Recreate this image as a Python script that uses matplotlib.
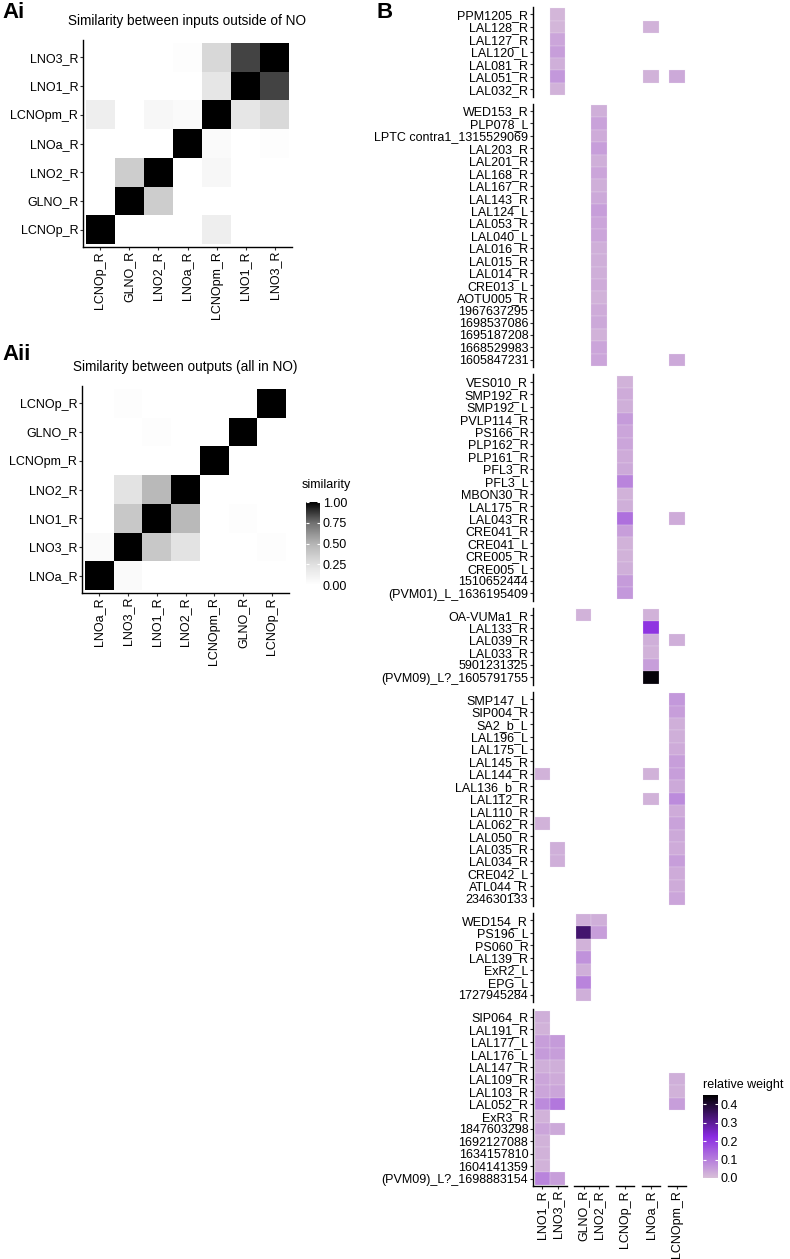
import numpy as np
import matplotlib
matplotlib.use("Agg")
import matplotlib.pyplot as plt
from matplotlib.colors import LinearSegmentedColormap, Normalize
from matplotlib.cm import ScalarMappable

plt.rcParams["font.family"] = ["Liberation Sans", "DejaVu Sans"]

W, H = 790, 1259

# Ai: similarity between inputs outside of NO (rows bottom->top, same order as columns)
ai_labels = ["LCNOp_R", "GLNO_R", "LNO2_R", "LNOa_R", "LCNOpm_R", "LNO1_R", "LNO3_R"]
ai_sim = [
    [1.00, 0.00, 0.00, 0.00, 0.137, 0.00, 0.00],
    [0.00, 1.00, 0.36, 0.00, 0.00, 0.00, 0.00],
    [0.00, 0.36, 1.00, 0.00, 0.065, 0.00, 0.00],
    [0.00, 0.00, 0.00, 1.00, 0.04, 0.00, 0.02],
    [0.137, 0.00, 0.065, 0.04, 1.00, 0.20, 0.29],
    [0.00, 0.00, 0.00, 0.00, 0.20, 1.00, 0.85],
    [0.00, 0.00, 0.00, 0.02, 0.30, 0.85, 1.00],
]

# Aii: similarity between outputs
aii_labels = ["LNOa_R", "LNO3_R", "LNO1_R", "LNO2_R", "LCNOpm_R", "GLNO_R", "LCNOp_R"]
aii_sim = [
    [1.00, 0.04, 0.00, 0.00, 0.00, 0.00, 0.00],
    [0.04, 1.00, 0.386, 0.23, 0.00, 0.00, 0.02],
    [0.00, 0.386, 1.00, 0.47, 0.00, 0.02, 0.00],
    [0.00, 0.23, 0.47, 1.00, 0.00, 0.00, 0.00],
    [0.00, 0.00, 0.00, 0.00, 1.00, 0.00, 0.00],
    [0.00, 0.00, 0.02, 0.00, 0.00, 1.00, 0.00],
    [0.00, 0.02, 0.00, 0.00, 0.00, 0.00, 1.00],
]

# B: relative weights, one block per row facet
b_groups = [["LNO1_R", "LNO3_R"], ["GLNO_R", "LNO2_R"], ["LCNOp_R"], ["LNOa_R"], ["LCNOpm_R"]]

b1_rows = ["PPM1205_R", "LAL128_R", "LAL127_R", "LAL120_L", "LAL081_R", "LAL051_R", "LAL032_R"]
b1_vals = {
    "LNO3_R": [0.015, 0.015, 0.04, 0.05, 0.025, 0.06, 0.02],
    "LNOa_R": [None, 0.02, None, None, None, 0.02, None],
    "LCNOpm_R": [None, None, None, None, None, 0.035, None],
}

b2_rows = ["WED153_R", "PLP078_L", "LPTC contra1_1315529069", "LAL203_R", "LAL201_R",
           "LAL168_R", "LAL167_R", "LAL143_R", "LAL124_L", "LAL053_R", "LAL040_L",
           "LAL016_R", "LAL015_R", "LAL014_R", "CRE013_L", "AOTU005_R", "1967637295",
           "1698537086", "1695187208", "1668529983", "1605847231"]
b2_vals = {
    "LNO2_R": [0.025, 0.045, 0.03, 0.05, 0.025, 0.04, 0.025, 0.035, 0.05, 0.04, 0.04,
               0.025, 0.025, 0.025, 0.03, 0.02, 0.03, 0.035, 0.02, 0.04, 0.04],
    "LCNOpm_R": [None] * 20 + [0.035],
}

b3_rows = ["VES010_R", "SMP192_R", "SMP192_L", "PVLP114_R", "PS166_R", "PLP162_R",
           "PLP161_R", "PFL3_R", "PFL3_L", "MBON30_R", "LAL175_R", "LAL043_R",
           "CRE041_R", "CRE041_L", "CRE005_R", "CRE005_L", "1510652444",
           "(PVM01)_L_1636195409"]
b3_vals = {
    "LCNOp_R": [0.02, 0.03, 0.025, 0.055, 0.04, 0.04, 0.03, 0.035, 0.09, 0.02, 0.025,
                0.12, 0.05, 0.02, 0.02, 0.025, 0.055, 0.06],
    "LCNOpm_R": [None] * 11 + [0.03] + [None] * 6,
}

b4_rows = ["OA-VUMa1_R", "LAL133_R", "LAL039_R", "LAL033_R", "5901231325",
           "(PVM09)_L?_1605791755"]
b4_vals = {
    "GLNO_R": [0.02, None, None, None, None, None],
    "LNOa_R": [0.02, 0.21, 0.025, 0.02, 0.05, 0.44],
    "LCNOpm_R": [None, None, 0.025, None, None, None],
}

b5_rows = ["SMP147_L", "SIP004_R", "SA2_b_L", "LAL196_L", "LAL175_L", "LAL145_R",
           "LAL144_R", "LAL136_b_R", "LAL112_R", "LAL110_R", "LAL062_R", "LAL050_R",
           "LAL035_R", "LAL034_R", "CRE042_L", "ATL044_R", "234630133"]
b5_vals = {
    "LNO1_R": [None] * 6 + [0.02, None, None, None, 0.02] + [None] * 6,
    "LNO3_R": [None] * 12 + [0.025, 0.025] + [None] * 3,
    "LNOa_R": [None] * 6 + [0.02, None, 0.02] + [None] * 8,
    "LCNOpm_R": [0.06, 0.05, 0.025, 0.025, 0.03, 0.05, 0.05, 0.035, 0.08, 0.03, 0.045,
                 0.035, 0.03, 0.05, 0.03, 0.03, 0.04],
}

b6_rows = ["WED154_R", "PS196_L", "PS060_R", "LAL139_R", "ExR2_L", "EPG_L", "1727945284"]
b6_vals = {
    "GLNO_R": [0.025, 0.34, 0.02, 0.07, 0.025, 0.09, 0.025],
    "LNO2_R": [0.025, 0.05, None, None, None, None, None],
}

b7_rows = ["SIP064_R", "LAL191_R", "LAL177_L", "LAL176_L", "LAL147_R", "LAL109_R",
           "LAL103_R", "LAL052_R", "ExR3_R", "1847603298", "1692127088", "1634157810",
           "1604141359", "(PVM09)_L?_1698883154"]
b7_vals = {
    "LNO1_R": [0.025, 0.02, 0.05, 0.055, 0.025, 0.04, 0.04, 0.08, 0.02, 0.04, 0.02,
               0.02, 0.02, 0.09],
    "LNO3_R": [None, None, 0.055, 0.05, 0.025, 0.03, 0.04, 0.11, None, 0.035, None,
               None, None, 0.05],
    "LCNOpm_R": [None] * 5 + [0.025, 0.02, 0.05] + [None] * 6,
}

blocks = [(b1_rows, b1_vals), (b2_rows, b2_vals), (b3_rows, b3_vals), (b4_rows, b4_vals),
          (b5_rows, b5_vals), (b6_rows, b6_vals), (b7_rows, b7_vals)]

gray_cmap = LinearSegmentedColormap.from_list(
    "sim", [(0, "white"), (0.25, "#e0e0e0"), (0.5, "#b4b4b4"), (0.75, "#707070"), (1, "black")])
purple_cmap = LinearSegmentedColormap.from_list("rw", ["#d8bfd8", "#8a2be2", "black"])
sim_norm = Normalize(0, 1)
rw_norm = Normalize(0, 0.45)

FS = 9


def px_axes(fig, x0, y0, x1, y1):
    return fig.add_axes([x0 / W, 1 - y1 / H, (x1 - x0) / W, (y1 - y0) / H])


def style_axes(ax, left=True, bottom=True):
    for s in ["top", "right"]:
        ax.spines[s].set_visible(False)
    ax.spines["left"].set_visible(left)
    ax.spines["bottom"].set_visible(bottom)
    for s in ["left", "bottom"]:
        ax.spines[s].set_linewidth(1.0)
    ax.tick_params(length=2.2, width=0.8, color="#333333", pad=1.2, labelsize=FS,
                   left=left, bottom=bottom, labelleft=left, labelbottom=bottom)
    ax.tick_params(axis="x", pad=0.6)


def heatmap(fig, box, labels, sim, title, title_y):
    ax = px_axes(fig, *box)
    n = len(labels)
    edges = np.arange(n + 1) - 0.5
    ax.pcolormesh(edges, edges, np.array(sim), cmap=gray_cmap, norm=sim_norm)
    ax.set_xlim(-0.6, n - 0.4)
    ax.set_ylim(-0.6, n - 0.4)
    ax.set_xticks(range(n))
    ax.set_xticklabels(labels, rotation=90)
    ax.set_yticks(range(n))
    ax.set_yticklabels(labels)
    style_axes(ax)
    fig.text((box[0] + box[2]) / 2 / W, 1 - title_y / H, title, ha="center", va="center",
             fontsize=9.8)
    return ax


def colorbar(fig, box, cmap, norm, ticks, fmt, title, title_xy):
    cax = px_axes(fig, *box)
    cb = fig.colorbar(ScalarMappable(norm=norm, cmap=cmap), cax=cax, ticks=ticks, format=fmt)
    cb.outline.set_visible(False)
    cax.tick_params(axis="y", direction="in", length=2.5, width=0.8, color="white",
                    left=True, right=True, labelleft=False, labelright=True, pad=2,
                    labelsize=FS)
    fig.text(title_xy[0] / W, 1 - title_xy[1] / H, title, ha="left", va="center", fontsize=FS)


def draw():
    fig = plt.figure(figsize=(W / 100, H / 100), dpi=100)

    heatmap(fig, (83, 40, 292, 247), ai_labels, ai_sim,
            "Similarity between inputs outside of NO", 21)
    heatmap(fig, (82, 386, 289, 593), aii_labels, aii_sim,
            "Similarity between outputs (all in NO)", 367)
    colorbar(fig, (306, 502, 320, 585), gray_cmap, sim_norm, [0, 0.25, 0.5, 0.75, 1],
             "%.2f", "similarity", (302, 485))

    fig.text(2 / W, 1 - 12 / H, "Ai", fontsize=16, fontweight="bold", va="center")
    fig.text(2 / W, 1 - 355 / H, "Aii", fontsize=16, fontweight="bold", va="center")
    fig.text(376 / W, 1 - 12 / H, "B", fontsize=16, fontweight="bold", va="center")

    # panel B facets
    x0, uw, hgap = 533, 15.4, 7.5
    y, uh, vgap = 7, 12.44, 7
    for bi, (rows, vals) in enumerate(blocks):
        h = (len(rows) + 0.2) * uh
        last = bi == len(blocks) - 1
        x = x0
        for gi, grp in enumerate(b_groups):
            w = (len(grp) + 0.2) * uw
            ax = px_axes(fig, x, y, x + w, y + h)
            for ci, col in enumerate(grp):
                v = vals.get(col)
                if v is None:
                    continue
                idx = [i for i, val in enumerate(v) if val is not None]
                ax.barh(idx, 1, height=1, left=ci - 0.5,
                        color=purple_cmap(rw_norm([v[i] for i in idx])),
                        edgecolor="#f4ecf6", linewidth=0.15)
            ax.set_xlim(-0.6, len(grp) - 0.4)
            ax.set_ylim(len(rows) - 0.4, -0.6)
            ax.set_xticks(range(len(grp)))
            ax.set_xticklabels(grp, rotation=90)
            ax.set_yticks(range(len(rows)))
            ax.set_yticklabels(rows)
            style_axes(ax, left=gi == 0, bottom=last)
            x += w + hgap
        y += h + vgap

    colorbar(fig, (703, 1095, 718, 1178), purple_cmap, rw_norm, [0, 0.1, 0.2, 0.3, 0.4],
             "%.1f", "relative weight", (703, 1085))

    fig.savefig("out.png", dpi=100)


if __name__ == "__main__":
    draw()
